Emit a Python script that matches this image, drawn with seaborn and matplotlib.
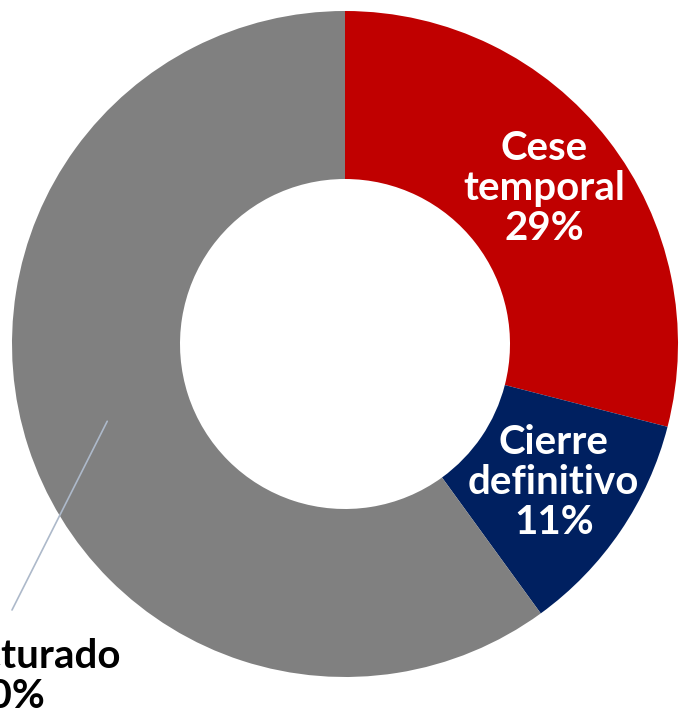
import matplotlib
matplotlib.use("Agg")
import matplotlib.pyplot as plt
import numpy as np
import seaborn as sns

labels = ["Cese\ntemporal", "Cierre\ndefinitivo", "Estructurado"]
shares = [29, 11, 60]
colors = ["#C00000", "#002060", "#808080"]

sns.set_theme(style="white")
plt.rcParams['font.family'] = ['Lato', 'DejaVu Sans']

fig = plt.figure(figsize=(6.79, 7.14), dpi=100)
ax = fig.add_axes([0, 0, 1, 1])

R = 333
wedges, _ = ax.pie(shares, colors=colors, startangle=90, counterclock=False,
                   radius=R, wedgeprops=dict(width=168, linewidth=0))

ax.set_xlim(-345, 334)
ax.set_ylim(-370, 344)
ax.set_aspect("equal")
ax.axis("off")

for i, w in enumerate(wedges):
    mid = np.deg2rad((w.theta1 + w.theta2) / 2)
    x, y = 250 * np.cos(mid), 250 * np.sin(mid)
    txt = f"{labels[i]}\n{shares[i]}%"
    if i < 2:
        ax.text(x + 2, y + 2, txt, ha="center", va="center", color="white",
                fontsize=29, fontweight="bold", linespacing=1.1)
    else:
        # outside label with leader line (label runs past the left edge, as in the source)
        ex, ey = -333, -266
        ax.plot([x, ex], [y, ey], color="#ADB9CA", lw=1.2)
        ax.text(-340, -333, txt, ha="center", va="center", color="black",
                fontsize=29, fontweight="bold", linespacing=1.1)

fig.savefig("out.png", dpi=100)
